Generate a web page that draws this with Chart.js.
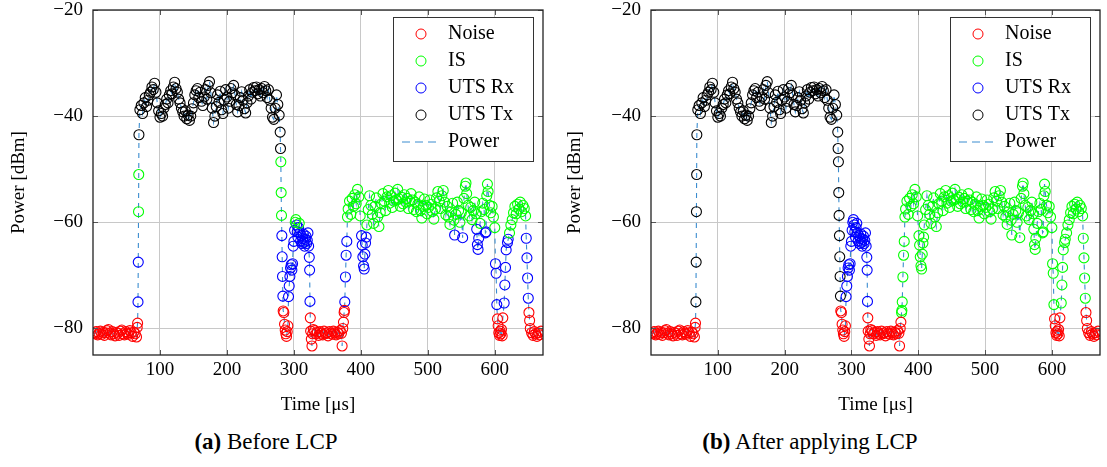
<!DOCTYPE html>
<html>
<head>
<meta charset="utf-8">
<script src="https://cdn.jsdelivr.net/npm/chart.js@4.4.0/dist/chart.umd.min.js"></script>
<style>
  body { margin: 0; background: #fff; width: 1107px; height: 467px; overflow: hidden; position: relative; font-family: "Liberation Serif", serif; }
  canvas { position: absolute; top: 0; }
  #chartA { left: 0; }
  #chartB { left: 553px; }
  .caption { position: absolute; top: 429px; font-size: 23px; white-space: nowrap; transform: translateX(-50%); }
</style>
</head>
<body>
<canvas id="chartA" width="553" height="420"></canvas>
<canvas id="chartB" width="554" height="420"></canvas>
<div class="caption" style="left:266px"><b>(a)</b> Before LCP</div>
<div class="caption" style="left:810px"><b>(b)</b> After applying LCP</div>
<script>
// axis ticks
const xTicks = [100, 200, 300, 400, 500, 600];
const yTicks = [-80, -60, -40, -20];

// classes
const seriesNames = ['Noise', 'IS', 'UTS Rx', 'UTS Tx'];
const seriesCodes = ['N', 'I', 'R', 'T'];
const seriesColors = ['#ff0000', '#00ff00', '#0000ff', '#000000'];
const powerColor = '#3a8ccf';

// sample times (us)
const timeUs = [
  1,3,5,7,9,11,13,15,17,19,21,23,25,27,29,31,33,35,37,39,41,43,45,47,49,51,53,55,57,59,61,63,
  65,66,66.6,67.2,67.6,68,68.3,68.6,
  70,72,74,76,78,80,82,84,86,88,90,92,94,96,98,100,102,104,106,108,110,112,114,116,118,120,122,124,126,128,
  130,132,134,136,138,140,142,144,146,148,150,152,154,156,158,160,162,164,166,168,170,172,174,176,178,180,182,184,186,188,
  190,192,194,196,198,200,202,204,206,208,210,212,214,216,218,220,222,224,226,228,230,232,234,236,238,240,242,244,246,248,
  250,252,254,256,258,260,262,264,266,268,270,272,274,276,278,
  279.5,280,280.5,281,281.5,282,282.5,283,283.5,
  284,285,286,287,288,289,290,291,
  292,293,294,295,296,297,298,299,300,301,302,303,304,305,306,307,308,309,310,311,312,313,314,315,316,317,318,319,320,321,322,323,323.5,324,
  324.5,325,326,327,328,329,331,333,335,337,339,341,343,345,347,349,351,353,355,357,359,361,363,365,367,369,371,372,373,374,
  375,375.5,376,377,378,379,380,
  381,383,385,387,389,391,393,395,397,399,401,402,403,404,405,406,407,408,409,
  411,413,415,417,419,421,423,425,427,429,431,433,435,437,439,441,443,445,447,449,451,453,455,457,459,461,463,465,467,469,
  471,473,475,477,479,481,483,485,487,489,491,493,495,497,499,501,503,505,507,509,511,513,515,517,519,521,523,525,527,529,
  531,533,535,537,539,
  540,542,544,546,548,550,552,554,556,557,558,560,562,564,566,568,570,572,573,574,575,576,578,580,582,584,586,587,588,589,590,592,594,596,598,600,
  601,602,603,604,605,606,607,608,609,610,611,612,
  614,615,616,617,619,620,622,624,626,628,630,632,634,636,638,640,642,644,646,
  647,648,649,650,651,652,653,655,657,659,661,663,665,667,669
];

// measured power (dBm)
const powerDbm = [
  -80.8,-81.0,-80.6,-81.2,-80.9,-80.5,-81.1,-80.7,-81.3,-80.8,-80.4,-80.2,-80.9,-81.2,-80.6,-81.0,
  -81.4,-80.7,-80.9,-81.3,-80.5,-80.3,-81.0,-81.2,-80.6,-80.9,-81.1,-80.4,-80.8,-81.5,-80.7,-81.0,
  -81.6,-79.8,-79.0,-75.0,-67.5,-58.0,-51.0,-43.5,
  -38.8,-38.0,-39.5,-37.5,-36.5,-38.2,-37.0,-36.0,-35.5,-34.5,
  -35.0,-33.8,-35.5,-37.5,-39.0,-40.2,-39.5,-40.0,-38.5,-37.8,
  -36.8,-37.5,-36.0,-35.2,-35.8,-34.5,-33.6,-34.8,-35.5,-36.8,
  -37.5,-38.5,-39.2,-40.0,-39.0,-40.5,-39.8,-40.8,-40.0,-38.6,
  -37.5,-36.0,-35.2,-34.8,-36.5,-35.5,-37.2,-38.0,-36.4,-35.0,
  -36.8,-34.2,-33.5,-35.6,-38.5,-41.2,-40.0,-38.2,-36.0,-37.4,
  -35.3,-38.8,-39.5,-37.0,-35.0,-36.4,-38.5,-37.2,-34.8,-35.6,
  -34.2,-36.0,-37.8,-39.2,-38.0,-36.5,-35.4,-37.0,-38.6,-39.4,
  -37.5,-36.2,-35.0,-36.8,-35.5,-34.6,-35.2,-34.5,-35.8,-35.0,
  -36.2,-34.8,-35.6,-34.4,-35.2,-36.5,-35.0,-37.0,-38.5,-40.2,
  -40.6,-38.5,-36.0,-37.8,-39.8,
  -43.0,-46.1,-48.6,-54.4,-58.7,-62.5,-66.5,-70.2,-73.9,
  -76.7,-77.0,-79.2,-80.3,-81.0,-81.5,-80.6,-79.5,
  -74.0,-72.0,-70.2,-68.6,-68.0,-69.0,-67.8,-64.5,-63.6,-61.5,-60.0,-59.5,-60.5,-61.8,-62.8,-61.0,-60.2,
  -62.0,-63.5,-62.5,-64.0,-63.0,-62.2,-63.8,-64.5,-63.2,-62.6,-64.0,-63.4,-62.0,-64.5,-66.6,-69.0,-74.9,
  -78.0,-80.5,-82.0,-83.3,-81.0,-80.2,
  -80.4,-81.0,-80.7,-81.3,-80.6,-80.9,-81.2,-80.5,-81.0,-80.8,-81.4,-80.6,-80.9,-81.1,-80.5,-80.8,-81.2,-80.7,-81.0,-80.4,-80.9,
  -83.3,-80.0,-78.8,
  -77.0,-76.6,-75.0,-70.3,-66.2,-63.6,-59.0,
  -57.5,-56.0,-58.5,-55.5,-57.0,-54.8,-56.5,-53.8,-55.2,-58.8,
  -62.5,-64.3,-66.5,-68.2,-68.8,-66.0,-63.9,-62.8,-60.5,
  -57.6,-55.0,-56.8,-58.5,-60.2,-57.0,-55.4,-59.0,-60.8,-58.2,
  -56.5,-54.6,-56.0,-57.8,-55.2,-54.0,-56.4,-55.0,-57.2,-56.0,
  -54.5,-55.8,-53.8,-55.6,-57.0,-55.3,-56.5,-54.8,-56.2,-55.5,
  -57.4,-56.0,-54.6,-55.8,-57.6,-56.2,-58.0,-56.6,-55.2,-57.8,
  -59.2,-57.0,-55.6,-56.8,-58.4,-57.2,-55.8,-56.6,-58.0,-59.4,
  -57.5,-55.4,-54.2,-56.0,-57.4,-55.0,-54.0,-56.2,-58.6,-57.0,
  -59.0,-60.4,-58.0,-56.4,-59.6,
  -62.4,-58.5,-56.2,-57.8,-60.0,-58.2,-62.9,-55.5,-53.2,-52.6,-54.6,-56.8,-58.8,-57.2,-59.5,-57.8,-56.2,-58.4,
  -61.3,-64.2,-65.1,-63.0,-60.2,-58.0,-56.4,-57.6,-62.0,-61.8,-55.0,-52.8,-54.2,-56.8,-58.2,-57.0,-59.0,-61.0,
  -67.8,-69.6,-75.5,-78.2,-79.5,-80.8,-81.3,-80.5,-81.0,-80.2,-81.4,-78.0,
  -75.2,-71.8,-68.5,-65.2,-63.8,-63.2,-62.0,-60.5,-59.5,-58.2,-57.0,-58.4,-56.6,-57.5,-56.2,-58.0,-56.8,-57.4,-58.8,
  -63.0,-66.7,-70.5,-74.3,-77.0,-78.5,-80.0,-80.8,-81.3,-80.6,-81.0,-81.5,-80.8,-81.2,-80.5
];

// class of each sample, as runs [code, count], in time order
const classRunsBefore = [
  ['N',35],['R',2],['I',2],['T',108],['I',3],['R',4],['N',8],
  ['R',10],['I',2],['R',4],['I',1],['R',17],['N',32],['R',4],['I',11],['R',8],
  ['I',66],['R',1],['I',5],['R',1],['I',11],['R',4],['I',4],['R',2],['I',8],
  ['R',3],['N',9],['R',6],['I',13],['R',4],['N',11]
];
const classRunsAfter = [
  ['N',35],['T',119],['N',8],['R',34],['N',30],['I',130],['N',9],['I',23],['N',11]
];

function expandRuns(runs) {
  const out = [];
  runs.forEach(([code, n]) => { for (let k = 0; k < n; k++) out.push(code); });
  return out;
}

const classBefore = expandRuns(classRunsBefore);
const classAfter = expandRuns(classRunsAfter);
if (powerDbm.length !== timeUs.length || classBefore.length !== timeUs.length || classAfter.length !== timeUs.length) {
  throw new Error('length mismatch ' + timeUs.length + ' ' + powerDbm.length + ' ' + classBefore.length + ' ' + classAfter.length);
}

const serif = '"Liberation Serif", "Times New Roman", serif';
Chart.defaults.font.family = serif;
Chart.defaults.color = '#000';

// box round the plot + inward tick marks
const framePlugin = {
  id: 'frame',
  afterDraw(chart) {
    const { ctx, chartArea: a, scales } = chart;
    ctx.save();
    ctx.strokeStyle = '#555';
    ctx.lineWidth = 1;
    ctx.beginPath();
    xTicks.forEach(v => {
      const px = Math.round(scales.x.getPixelForValue(v)) + 0.5;
      ctx.moveTo(px, a.bottom); ctx.lineTo(px, a.bottom - 5);
      ctx.moveTo(px, a.top); ctx.lineTo(px, a.top + 5);
    });
    yTicks.forEach(v => {
      const py = Math.round(scales.y.getPixelForValue(v)) + 0.5;
      ctx.moveTo(a.left, py); ctx.lineTo(a.left + 5, py);
      ctx.moveTo(a.right, py); ctx.lineTo(a.right - 5, py);
    });
    ctx.stroke();
    ctx.strokeStyle = '#222';
    ctx.lineWidth = 1.3;
    ctx.strokeRect(a.left, a.top, a.right - a.left, a.bottom - a.top);
    ctx.restore();
  }
};

// boxed legend in the upper right corner
const legendBoxPlugin = {
  id: 'legendBox',
  afterDraw(chart) {
    const { ctx, chartArea: a } = chart;
    const bw = 140, bh = 144;
    const bx = a.right - 10 - bw, by = a.top + 7;
    ctx.save();
    ctx.fillStyle = '#fff';
    ctx.fillRect(bx, by, bw, bh);
    ctx.strokeStyle = '#333';
    ctx.lineWidth = 1;
    ctx.strokeRect(bx + 0.5, by + 0.5, bw, bh);
    ctx.font = '20px ' + serif;
    ctx.textBaseline = 'middle';
    ctx.fillStyle = '#000';
    seriesNames.forEach((name, i) => {
      const y = by + 17 + i * 27;
      ctx.beginPath();
      ctx.arc(bx + 28, y, 5, 0, Math.PI * 2);
      ctx.strokeStyle = seriesColors[i];
      ctx.stroke();
      ctx.fillText(name, bx + 55, y);
    });
    const y = by + 17 + 4 * 27;
    ctx.beginPath();
    ctx.setLineDash([8, 5]);
    ctx.strokeStyle = powerColor;
    ctx.moveTo(bx + 9, y); ctx.lineTo(bx + 45, y);
    ctx.stroke();
    ctx.setLineDash([]);
    ctx.fillText('Power', bx + 55, y);
    ctx.restore();
  }
};

function makeChart(id, classes, yWidth, yTitlePad, rightPad) {
  const pts = timeUs.map((t, i) => ({ x: t, y: powerDbm[i] }));
  const datasets = seriesCodes.map((code, k) => ({
    label: seriesNames[k],
    data: pts.filter((p, i) => classes[i] === code),
    borderColor: seriesColors[k],
    backgroundColor: 'rgba(0,0,0,0)',
    pointRadius: 5,
    pointBorderWidth: 1.1,
    showLine: false,
    order: 1
  }));
  datasets.push({
    label: 'Power',
    data: pts,
    showLine: true,
    borderColor: powerColor,
    borderWidth: 1.1,
    borderDash: [5, 5],
    pointRadius: 0,
    order: 5
  });

  const tickFont = { size: 19, lineHeight: 1 };
  return new Chart(document.getElementById(id), {
    type: 'scatter',
    data: { datasets },
    options: {
      responsive: false,
      animation: false,
      layout: { padding: { top: 10, right: rightPad, left: 0, bottom: 0 } },
      plugins: { legend: { display: false }, tooltip: { enabled: false } },
      scales: {
        x: {
          type: 'linear',
          min: 0,
          max: 672,
          afterBuildTicks: s => { s.ticks = xTicks.map(v => ({ value: v })); },
          afterFit: s => { s.height = 65; s.paddingLeft = 0; s.paddingRight = 0; },
          ticks: { font: tickFont, padding: 6, maxRotation: 0, callback: v => String(v) },
          grid: { color: '#c8c8c8', drawTicks: false },
          border: { display: false },
          title: { display: true, text: 'Time [\u03bcs]', font: { size: 19 }, padding: { top: 0, bottom: 4 } }
        },
        y: {
          min: -85,
          max: -20,
          afterBuildTicks: s => { s.ticks = yTicks.map(v => ({ value: v })); },
          afterFit: s => { s.width = yWidth; s.paddingTop = 0; s.paddingBottom = 0; },
          ticks: { font: tickFont, padding: 10, callback: v => '\u2212' + Math.abs(v) },
          grid: { color: '#c8c8c8', drawTicks: false },
          border: { display: false },
          title: { display: true, text: 'Power [dBm]', font: { size: 19 }, padding: { top: yTitlePad, bottom: yTitlePad } }
        }
      }
    },
    plugins: [framePlugin, legendBoxPlugin]
  });
}

makeChart('chartA', classBefore, 93, 8, 10);
makeChart('chartB', classAfter, 98, 11, 7);
</script>
</body>
</html>
